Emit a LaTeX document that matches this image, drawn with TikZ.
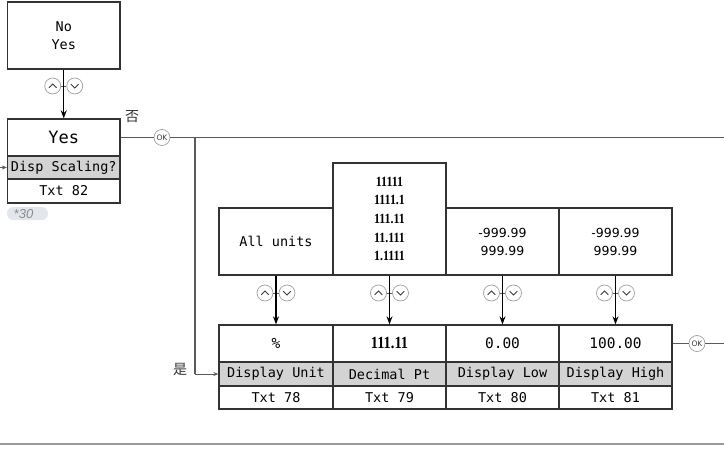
\documentclass[tikz,border=0pt]{standalone}
\usepackage{fontspec}
\setmonofont{DejaVu Sans Mono}
\newfontfamily\numfont[FakeStretch=0.85]{Liberation Serif}
\newfontfamily\sansfnt{DejaVu Sans}
\newfontfamily\cjk{Noto Sans CJK SC}
\newfontfamily\itfnt{Liberation Sans}
\usetikzlibrary{arrows.meta,calc}
\definecolor{boxline}{HTML}{333333}
\definecolor{rowgray}{HTML}{D3D3D3}
\definecolor{conn}{HTML}{5A5A5A}
\definecolor{keyline}{HTML}{A0A0A0}
\definecolor{chevc}{HTML}{3A3A3A}
\definecolor{badgec}{HTML}{E3E7EB}
\definecolor{rulec}{HTML}{9A9A9A}
\definecolor{badgetxt}{HTML}{8A8A8A}
\newcommand\keypair[3]{%
  \node[keyc] (#1u) at (#2-11,#3) {};
  \node[keyc] (#1d) at (#2+11,#3) {};
  \draw[conn,line width=0.8pt] (#1u.east) -- (#1d.west);
  \draw[chev] ([shift={(-3.8,1.9)}]#1u.center) -- ([shift={(0,-1.9)}]#1u.center) -- ([shift={(3.8,1.9)}]#1u.center);
  \draw[chev] ([shift={(-3.8,-1.9)}]#1d.center) -- ([shift={(0,1.9)}]#1d.center) -- ([shift={(3.8,-1.9)}]#1d.center);
}
\begin{document}
\begin{tikzpicture}[x=1pt,y=-1pt,
  box/.style={draw=boxline, line width=1.3pt, inner sep=0pt, align=center},
  grayrow/.style={box, fill=rowgray},
  lcd/.style={font=\ttfamily\fontsize{13.5}{16}\selectfont},
  lcdbig/.style={font=\ttfamily\fontsize{14.5}{17}\selectfont},
  lcdhuge/.style={font=\ttfamily\fontsize{17}{20}\selectfont},
  lcdsel/.style={font=\ttfamily\fontsize{13.5}{18}\selectfont},
  numsm/.style={font=\numfont\bfseries\fontsize{14}{18.7}\selectfont},
  numbig/.style={font=\numfont\bfseries\fontsize{17}{20}\selectfont},
  sansnum/.style={font=\sansfnt\fontsize{12.5}{18}\selectfont},
  keyc/.style={circle, draw=keyline, line width=0.7pt, fill=white, inner sep=0pt, minimum size=16pt},
  chev/.style={draw=chevc, line width=0.9pt, line join=miter},
  okc/.style={circle, draw=keyline, line width=0.7pt, fill=white, inner sep=0pt, minimum size=16pt,
              font=\sansfnt\fontsize{7.5}{8}\selectfont, text=chevc},
  conn/.style={draw=conn, line width=1.1pt},
  arr/.style={draw=black, line width=1.3pt, -{Stealth[length=8pt,width=6pt]}},
  sarr/.style={draw=conn, line width=0.8pt, -{Stealth[length=5pt,width=4pt]}},
  cjklab/.style={font=\cjk\fontsize{14}{16}\selectfont, text=boxline}
]
\useasboundingbox (0,0) rectangle (724,455);

% --- left column
\node[box, lcdsel, minimum width=112.5, minimum height=67] (sel) at (63.75,35.5) {No\\Yes};
\node[box, lcdhuge, minimum width=112.5, minimum height=37] (yesA) at (63.75,137.5) {Yes};
\node[grayrow, lcd, minimum width=112.5, minimum height=23] (yesB) at (63.75,167.5) {Disp Scaling?};
\node[box, lcd, minimum width=112.5, minimum height=24] (yesC) at (63.75,191) {Txt 82};

\keypair{k0}{63.75}{86}
\draw[arr] (sel.south) -- (yesA.north);

\coordinate (inL) at (0,167.5);
\draw[sarr] (inL) -- (yesB.west);

\node[cjklab] (no) at (132,117) {否};
\node[fill=badgec, rounded corners=6pt, minimum width=41, minimum height=13, inner sep=0pt] (badge) at (27.5,213.5) {};
\node[font=\itfnt\itshape\fontsize{13}{13}\selectfont, text=badgetxt, inner sep=0pt] (b30) at (23.5,214) {*30};

% --- OK line top
\node[okc] (ok1) at (162,137.5) {OK};
\coordinate (rTop) at (724,137.5);
\coordinate (jn) at (195,137.5);
\draw[conn] (yesA.east) -- (ok1.west);
\draw[conn] (ok1.east) -- (rTop);

% --- upper option boxes
\node[box, lcd, minimum width=114, minimum height=67] (u1) at (276,241.5) {All units};
\node[box, numsm, minimum width=113, minimum height=112] (u2) at (389.5,219) {11111\\1111.1\\111.11\\11.111\\1.1111};
\node[box, sansnum, minimum width=113, minimum height=67] (u3) at (502.5,241.5) {-999.99\\999.99};
\node[box, sansnum, minimum width=113, minimum height=67] (u4) at (615.5,241.5) {-999.99\\999.99};

% --- lower parameter boxes
\node[box, lcdbig, minimum width=114, minimum height=37] (a1) at (276,343.5) {\%};
\node[grayrow, lcd, minimum width=114, minimum height=24] (b1) at (276,374) {Display Unit};
\node[box, lcd, minimum width=114, minimum height=23] (c1) at (276,397.5) {Txt 78};

\node[box, numbig, minimum width=113, minimum height=37] (a2) at (389.5,343.5) {111.11};
\node[grayrow, lcd, minimum width=113, minimum height=24] (b2) at (389.5,374) {Decimal Pt};
\node[box, lcd, minimum width=113, minimum height=23] (c2) at (389.5,397.5) {Txt 79};

\node[box, lcdbig, minimum width=113, minimum height=37] (a3) at (502.5,343.5) {0.00};
\node[grayrow, lcd, minimum width=113, minimum height=24] (b3) at (502.5,374) {Display Low};
\node[box, lcd, minimum width=113, minimum height=23] (c3) at (502.5,397.5) {Txt 80};

\node[box, lcdbig, minimum width=113, minimum height=37] (a4) at (615.5,343.5) {100.00};
\node[grayrow, lcd, minimum width=113, minimum height=24] (b4) at (615.5,374) {Display High};
\node[box, lcd, minimum width=113, minimum height=23] (c4) at (615.5,397.5) {Txt 81};

% --- arrows from options to parameters
\keypair{k1}{276}{293}
\keypair{k2}{389.5}{293}
\keypair{k3}{502.5}{293}
\keypair{k4}{615.5}{293}
\draw[arr] (u1.south) -- (a1.north);
\draw[arr] (u2.south) -- (a2.north);
\draw[arr] (u3.south) -- (a3.north);
\draw[arr] (u4.south) -- (a4.north);

% --- yes branch
\coordinate (jb) at (195,374);
\draw[conn] (jn) -- (jb);
\draw[sarr] (jb) -- (b1.west);
\node[cjklab] (yes) at (180,369) {是};

% --- OK line right
\node[okc] (ok2) at (697,343.5) {OK};
\coordinate (rBot) at (724,343.5);
\draw[conn] (a4.east) -- (ok2.west);
\draw[conn] (ok2.east) -- (rBot);

% --- bottom rule
\draw[draw=rulec, line width=1.5pt] (0,444) -- (724,444);
\end{tikzpicture}
\end{document}
